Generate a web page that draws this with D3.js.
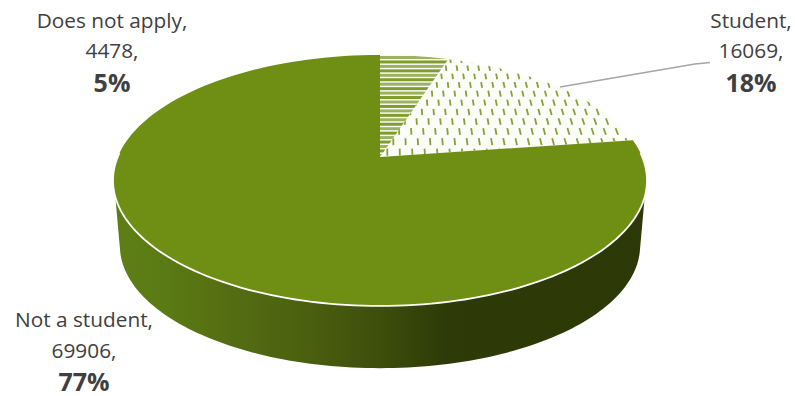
<!DOCTYPE html>
<html><head><meta charset="utf-8">
<script src="https://cdn.jsdelivr.net/npm/d3@7"></script>
<style>html,body{margin:0;padding:0;background:#fff}svg{display:block}text{font-family:"Open Sans",sans-serif;fill:#404040}</style>
</head><body><svg id="c" width="795" height="396"></svg>
<script>
const categories=["Does not apply","Student","Not a student"];
const values=[4478,16069,69906];
const percents=["5%","18%","77%"];
const svg=d3.select("#c");
const k=.187;
const top3={x:380,y:157,A:262.3,B:121.1};
const bot3={x:380,y:223,A:255.5,B:118};
const proj=(p,u,v)=>[p.x+p.A*u/(1+k*v),p.y-p.B*v/(1+k*v)];
const onCircle=(p,a,r=1)=>proj(p,r*Math.sin(a),r*Math.cos(a));
const arcs=d3.pie().sort(null)(values);
const line=d3.line();
const sampleArc=(p,a0,a1)=>d3.range(0,121).map(i=>onCircle(p,a0+(a1-a0)*i/120));
const slicePath=d=>line([[top3.x,top3.y],...sampleArc(top3,d.startAngle,d.endAngle)])+"Z";
const defs=svg.append("defs");
const g=defs.append("linearGradient").attr("id","side").attr("gradientUnits","userSpaceOnUse").attr("x1",113).attr("x2",647).attr("y1",0).attr("y2",0);
[[0,"#5f7e15"],[.1,"#5a7a14"],[.2,"#566f12"],[.35,"#4b610f"],[.5,"#3e4e0b"],[.62,"#2e3b08"],[1,"#2c3807"]].forEach(s=>g.append("stop").attr("offset",s[0]).attr("stop-color",s[1]));
arcs.forEach((d,i)=>defs.append("clipPath").attr("id","clip"+i).append("path").attr("d",slicePath(d)));
// side wall
const a1=Math.acos(-.311),a2=Math.acos(-.22);
svg.append("path").attr("fill","url(#side)").attr("d",line([...sampleArc(top3,a1,2*Math.PI-a1),...sampleArc(bot3,2*Math.PI-a2,a2)])+"Z");
// slices
const sel=svg.selectAll("g.s").data(arcs).join("g").attr("class","s");
sel.append("path").attr("d",slicePath).attr("fill",(d,i)=>i==2?"#6f8e14":"#fcfdf8");
// horizontal line texture for first slice
const hl=svg.append("g").attr("clip-path","url(#clip0)");
d3.range(0,24).forEach(i=>{
  const y=56+i*4.45;
  hl.append("rect").attr("x",375).attr("width",80).attr("y",y).attr("height",3).attr("fill",i%2?"#7f9c2e":"#9ab35c");
});
// dash texture for second slice
const ds=svg.append("g").attr("clip-path","url(#clip1)");
d3.range(0,12).forEach(r=>{
  const v=.01+r*.09;
  d3.range(0,24).forEach(c=>{
    const u=-.02+c*.048+(r%2?.024:0);
    const p0=proj(top3,u,v),p1=proj(top3,u,v+.06);
    ds.append("line").attr("x1",p0[0]).attr("y1",p0[1]).attr("x2",p1[0]).attr("y2",p1[1]).attr("stroke","#86a135").attr("stroke-width",1.8);
  });
});
// white rim
svg.append("path").attr("fill","none").attr("stroke","#fff").attr("stroke-width",1.8).attr("d",line(sampleArc(top3,a1-.35,2*Math.PI-a1+.35)));
svg.append("path").attr("fill","none").attr("stroke","#a6a6a6").attr("stroke-width",1.5).attr("d",line([[560,87],[695,64],[710,62.5]]));
// labels
const lab=[{x:112,y:[28,58,92]},{x:751,y:[28,58,92]},{x:84,y:[327,358,391]}];
lab.forEach((l,i)=>{
  const t=svg.append("g").attr("text-anchor","middle").attr("transform",`translate(${l.x},0)`);
  t.append("text").attr("y",l.y[0]).attr("font-size",20.8).text(categories[i]+",");
  t.append("text").attr("y",l.y[1]).attr("font-size",20.8).text(values[i]+",");
  t.append("text").attr("y",l.y[2]).attr("font-size",25).attr("font-weight",700).text(percents[i]);
});
</script></body></html>
